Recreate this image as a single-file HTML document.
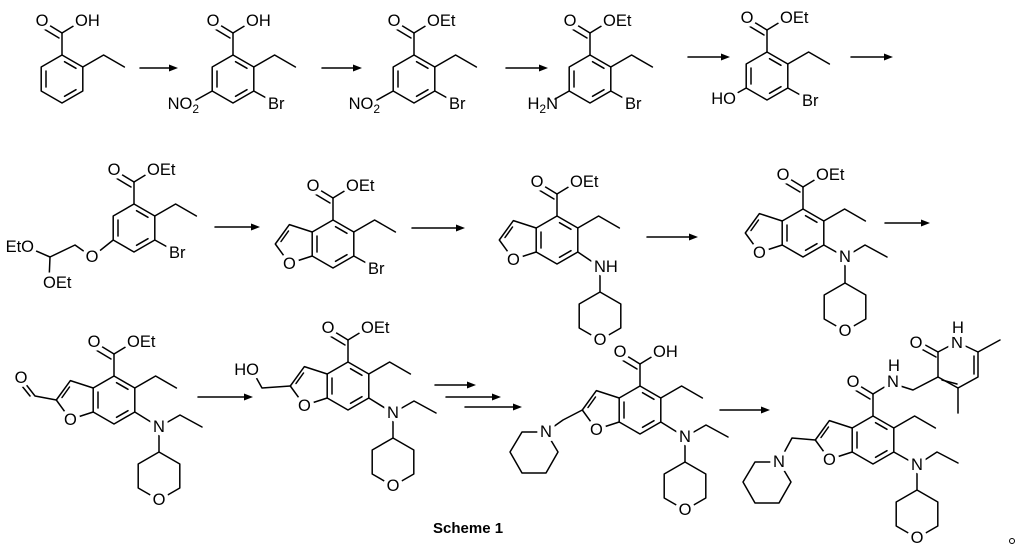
<!DOCTYPE html>
<html><head><meta charset="utf-8"><style>
html,body{margin:0;padding:0;background:#fff;}
svg{display:block;}
.b{stroke:#000;stroke-width:1.5;fill:none;stroke-linecap:round;stroke-linejoin:round;}
text{font-family:"Liberation Sans",sans-serif;font-size:16.5px;fill:#000;stroke:#fff;stroke-width:8px;paint-order:stroke;stroke-linejoin:round;}
text.n{stroke:none;}
.m{text-anchor:middle;}
.e{text-anchor:end;}
</style></head><body>
<svg width="1024" height="557" viewBox="0 0 1024 557" xmlns="http://www.w3.org/2000/svg">
<defs>
<g id="bz" class="b"><polygon points="0,-24 20.8,-12 20.8,12 0,24 -20.8,12 -20.8,-12"/><line x1="2.5" y1="-17.3" x2="14" y2="-10.7"/><line x1="14" y1="10.7" x2="2.5" y2="17.3"/><line x1="-16" y1="-8" x2="-16" y2="8"/></g>
<g id="bf" class="b"><use href="#bz"/><polyline points="-20.8,-12 -43.6,-19.4 -57.7,0 -43.6,19.4 -20.8,12"/><line x1="-44.5" y1="-13" x2="-52" y2="-2.5"/></g>
<g id="es" class="b"><line x1="0" y1="-24" x2="0" y2="-46"/><line x1="0" y1="-46" x2="-18" y2="-57"/><line x1="-3" y1="-41" x2="-18" y2="-50"/><line x1="0" y1="-46" x2="18" y2="-57"/></g>
<polyline id="et" class="b" points="20.8,-12 41.6,-24 62.4,-12"/>
<polygon id="thp" class="b" points="0,0 20.8,12 20.8,36 0,48 -20.8,36 -20.8,12"/>
<g id="ah"><polygon points="0,0 -9,-3.5 -9,3.5" fill="#000"/></g>
</defs>

<g transform="translate(62,79)"><use href="#bz"/><use href="#es"/><use href="#et"/>
<text class="m" x="-20" y="-53">O</text><text x="13" y="-53">OH</text></g>

<g transform="translate(233,79)"><use href="#bz"/><use href="#es"/><use href="#et"/>
<line class="b" x1="20.8" y1="12" x2="37" y2="21"/><line class="b" x1="-20.8" y1="12" x2="-37" y2="21"/>
<text class="m" x="-20" y="-53">O</text><text x="13" y="-53">OH</text>
<text x="35" y="30">Br</text><text class="e n" x="-34" y="30">NO<tspan font-size="12" dy="4">2</tspan></text></g>

<g transform="translate(414,79)"><use href="#bz"/><use href="#es"/><use href="#et"/>
<line class="b" x1="20.8" y1="12" x2="37" y2="21"/><line class="b" x1="-20.8" y1="12" x2="-37" y2="21"/>
<text class="m" x="-20" y="-53">O</text><text x="13" y="-53">OEt</text>
<text x="35" y="30">Br</text><text class="e n" x="-34" y="30">NO<tspan font-size="12" dy="4">2</tspan></text></g>

<g transform="translate(590,79)"><use href="#bz"/><use href="#es"/><use href="#et"/>
<line class="b" x1="20.8" y1="12" x2="37" y2="21"/><line class="b" x1="-20.8" y1="12" x2="-35" y2="20"/>
<text class="m" x="-20" y="-53">O</text><text x="13" y="-53">OEt</text>
<text x="35" y="30">Br</text><text class="e n" x="-32" y="30">H<tspan font-size="12" dy="4">2</tspan><tspan dy="-4">N</tspan></text></g>

<g transform="translate(767,76)"><use href="#bz"/><use href="#es"/><use href="#et"/>
<line class="b" x1="20.8" y1="12" x2="37" y2="21"/><line class="b" x1="-20.8" y1="12" x2="-37" y2="21"/>
<text class="m" x="-20" y="-53">O</text><text x="13" y="-53">OEt</text>
<text x="35" y="30">Br</text><text class="e" x="-31" y="28">HO</text></g>

<g class="b"><line x1="140" y1="68" x2="172" y2="68"/><line x1="322" y1="68" x2="355" y2="68"/><line x1="506" y1="68" x2="541" y2="68"/><line x1="688" y1="57" x2="723" y2="57"/><line x1="851" y1="57" x2="886" y2="57"/></g>
<use href="#ah" x="178" y="68"/><use href="#ah" x="362" y="68"/><use href="#ah" x="548" y="68"/><use href="#ah" x="730" y="57"/><use href="#ah" x="893" y="57"/>

<g transform="translate(134,228)"><use href="#bz"/><use href="#es"/><use href="#et"/>
<line class="b" x1="20.8" y1="12" x2="37" y2="21"/>
<polyline class="b" points="-20.8,12 -42,29 -59,17 -84,29 -107,19"/><line class="b" x1="-84" y1="29" x2="-85" y2="53"/>
<text class="m" x="-20" y="-53">O</text><text x="13" y="-53">OEt</text>
<text x="35" y="30">Br</text><text class="m" x="-42" y="34">O</text>
<text class="e" x="-100" y="24">EtO</text><text x="-91" y="60">OEt</text></g>

<g transform="translate(333,244)"><use href="#bf"/><use href="#es"/><use href="#et"/>
<line class="b" x1="20.8" y1="12" x2="37" y2="21"/>
<text class="m" x="-20" y="-53">O</text><text x="13" y="-53">OEt</text>
<text x="35" y="30">Br</text><text class="m" x="-43.6" y="25">O</text></g>

<g transform="translate(557,240)"><use href="#bf"/><use href="#es"/><use href="#et"/>
<line class="b" x1="20.8" y1="12" x2="43" y2="27"/><line class="b" x1="43" y1="27" x2="43" y2="52"/>
<use href="#thp" x="43" y="52"/>
<text class="m" x="-20" y="-53">O</text><text x="13" y="-53">OEt</text>
<text class="m" x="-43.6" y="25">O</text><text x="37" y="32">NH</text><text class="m" x="43" y="105">O</text></g>

<g transform="translate(803,233)"><use href="#bf"/><use href="#es"/><use href="#et"/>
<polyline class="b" points="20.8,12 42,24 62,12 84,24"/><line class="b" x1="42" y1="24" x2="42" y2="50"/>
<use href="#thp" x="42" y="50"/>
<text class="m" x="-20" y="-53">O</text><text x="13" y="-53">OEt</text>
<text class="m" x="-43.6" y="25">O</text><text class="m" x="42" y="29">N</text><text class="m" x="42" y="103">O</text></g>

<g class="b"><line x1="215" y1="227" x2="253" y2="227"/><line x1="412" y1="228" x2="458" y2="228"/><line x1="647" y1="237" x2="691" y2="237"/><line x1="885" y1="223" x2="923" y2="223"/></g>
<use href="#ah" x="260" y="227"/><use href="#ah" x="465" y="228"/><use href="#ah" x="698" y="237"/><use href="#ah" x="930" y="223"/>

<g transform="translate(114,400)"><use href="#bf"/><use href="#es"/><use href="#et"/>
<polyline class="b" points="20.8,12 45,27 66,15 88,27"/><line class="b" x1="45" y1="27" x2="45" y2="52"/>
<use href="#thp" x="45" y="52"/>
<polyline class="b" points="-57.7,0 -79,-4 -93,-22"/><line class="b" x1="-84" y1="-4" x2="-96" y2="-19"/>
<text class="m" x="-20" y="-53">O</text><text x="13" y="-53">OEt</text>
<text class="m" x="-43.6" y="25">O</text><text class="m" x="45" y="32">N</text><text class="m" x="45" y="105">O</text>
<text class="m" x="-93" y="-17">O</text></g>

<g transform="translate(348,386)"><use href="#bf"/><use href="#es"/><use href="#et"/>
<polyline class="b" points="20.8,12 45,27 66,15 88,27"/><line class="b" x1="45" y1="27" x2="45" y2="52"/>
<use href="#thp" x="45" y="52"/>
<polyline class="b" points="-57.7,0 -86,2 -96,-16"/>
<text class="m" x="-20" y="-53">O</text><text x="13" y="-53">OEt</text>
<text class="m" x="-43.6" y="25">O</text><text class="m" x="45" y="32">N</text><text class="m" x="45" y="105">O</text>
<text class="e" x="-89" y="-11">HO</text></g>

<g transform="translate(640,410)"><use href="#bf"/><use href="#es"/><use href="#et"/>
<polyline class="b" points="20.8,12 45,27 66,15 88,27"/><line class="b" x1="45" y1="27" x2="45" y2="52"/>
<use href="#thp" x="45" y="52"/>
<polyline class="b" points="-57.7,0 -77,10 -94,22"/>
<polygon class="b" points="-94,22 -82,42 -94,63 -118,63 -130,42 -118,22"/>
<text class="m" x="-20" y="-53">O</text><text x="13" y="-53">OH</text>
<text class="m" x="-43.6" y="25">O</text><text class="m" x="45" y="32">N</text><text class="m" x="45" y="105">O</text>
<text class="m" x="-94" y="27">N</text></g>

<g transform="translate(873,440)"><use href="#bf"/><use href="#es"/><use href="#et"/>
<polyline class="b" points="20.8,12 44,25 64,12 85,23"/><line class="b" x1="44" y1="25" x2="44" y2="50"/>
<use href="#thp" x="44" y="50"/>
<polyline class="b" points="-57.7,0 -81,-2 -94,22"/>
<polygon class="b" points="-94,22 -82,42 -94,63 -118,63 -130,42 -118,22"/>
<polyline class="b" points="18,-57 40,-50 65,-63"/>
<text class="m" x="-20" y="-53">O</text><text class="m" x="20" y="-53">N</text><text class="m" x="21" y="-69">H</text>
<text class="m" x="-43.6" y="25">O</text><text class="m" x="44" y="30">N</text><text class="m" x="44" y="103">O</text>
<text class="m" x="-94" y="27">N</text></g>

<g class="b">
<polygon points="938,377 938,352 957,342 978,352 978,377 958,388"/>
<line x1="942" y1="380" x2="957" y2="384" />
<line x1="974" y1="356" x2="974" y2="374"/>
<line x1="938" y1="352" x2="918" y2="341"/><line x1="936" y1="357" x2="916" y2="346"/>
<line x1="978" y1="352" x2="1000" y2="340"/>
<line x1="958" y1="388" x2="958" y2="413"/>
</g>
<text class="m" x="916" y="348">O</text><text class="m" x="957" y="348">N</text><text class="m" x="958" y="333">H</text>

<g class="b"><line x1="198" y1="397" x2="246" y2="397"/><line x1="435" y1="385" x2="469" y2="385"/><line x1="446" y1="397" x2="494" y2="397"/><line x1="465" y1="407" x2="515" y2="407"/><line x1="720" y1="410" x2="763" y2="410"/></g>
<use href="#ah" x="253" y="397"/><use href="#ah" x="476" y="385"/><use href="#ah" x="501" y="397"/><use href="#ah" x="522" y="407"/><use href="#ah" x="770" y="410"/>

<text x="433" y="533" style="font-weight:bold;font-size:15px;stroke:none">Scheme 1</text>
<circle cx="1012" cy="541" r="2.5" fill="none" stroke="#000" stroke-width="1"/>
</svg>
</body></html>
